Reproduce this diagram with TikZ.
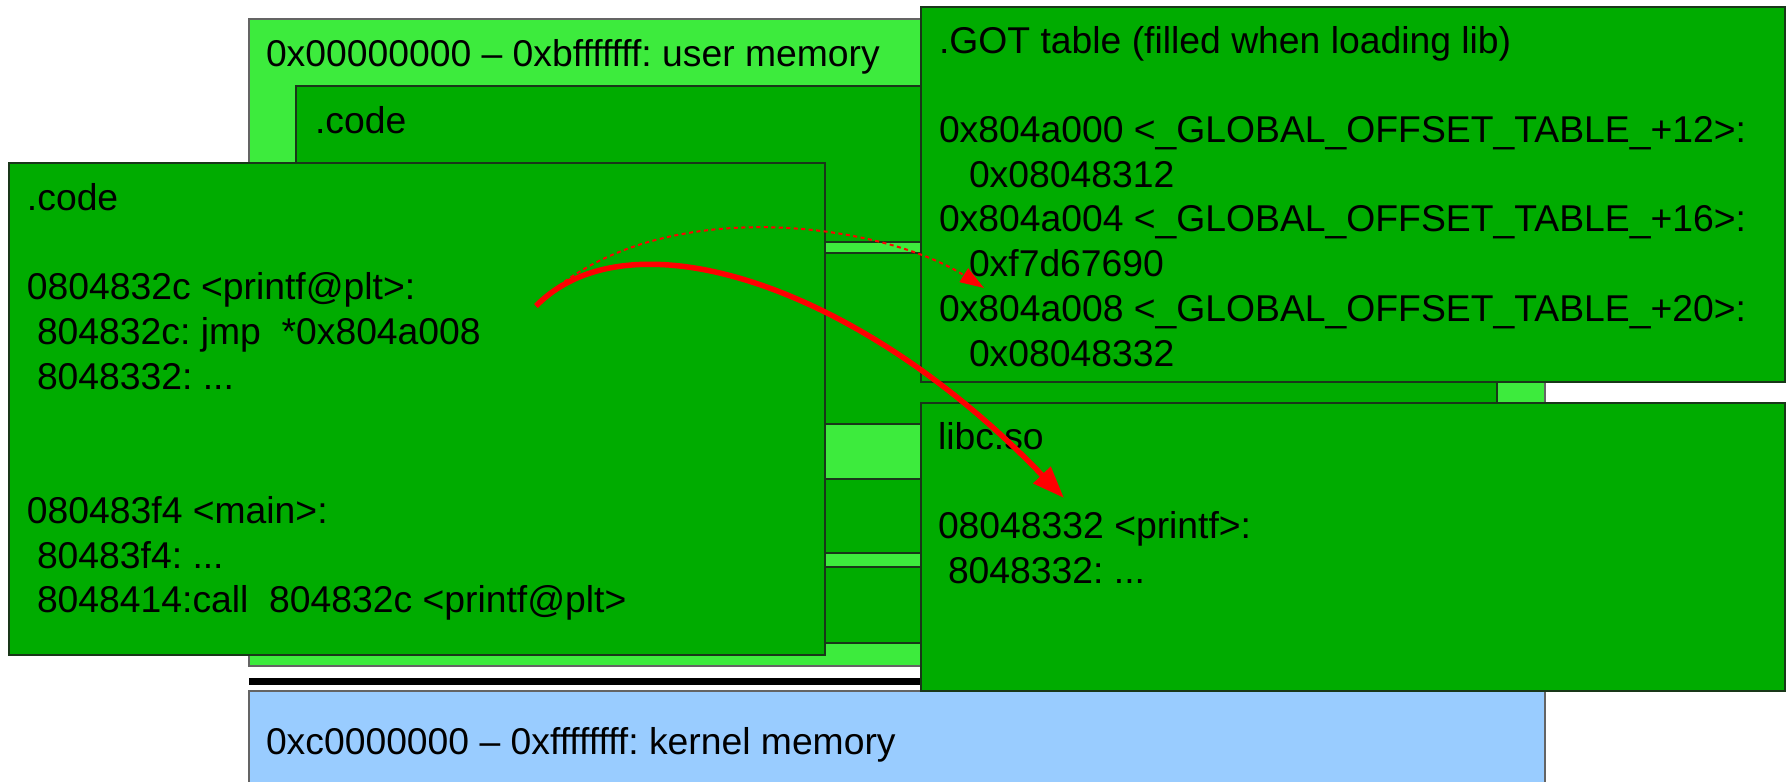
\documentclass[tikz,border=0pt]{standalone}
\usepackage{fontspec}
\setmainfont{Liberation Sans}
\usetikzlibrary{arrows.meta}
\frenchspacing
\definecolor{lightgr}{RGB}{61,235,61}
\definecolor{darkgr}{RGB}{0,172,0}
\definecolor{kernelblue}{RGB}{153,204,255}
\definecolor{boxline}{RGB}{25,55,25}
\definecolor{greyline}{RGB}{100,100,100}
\definecolor{arrowred}{RGB}{255,0,0}
\tikzset{
  box/.style={anchor=north west, inner sep=0pt, outer sep=0pt, line width=1.6pt},
  userbox/.style={box, draw=greyline, fill=lightgr},
  codebox/.style={box, draw=boxline, fill=darkgr},
  kernelbox/.style={box, draw=greyline, fill=kernelblue},
  txt/.style={anchor=base west, inner sep=0pt, outer sep=0pt, align=left,
    font=\fontsize{37.3pt}{44.7pt}\selectfont\frenchspacing},
  solidarrow/.style={draw=arrowred, line width=5.5pt, -{Triangle[length=32pt,width=23pt]}},
  dasharrow/.style={draw=arrowred, line width=2pt, dash pattern=on 4pt off 3.5pt,
    -{Triangle[length=24pt,width=16pt]}}
}
\begin{document}
\begin{tikzpicture}[x=1pt,y=-1pt]
\useasboundingbox (0,0) rectangle (1789,782);
\fill[white] (0,0) rectangle (1789,782);
% user memory region
\node[userbox, minimum width=1296pt, minimum height=647pt] (user) at (249,19) {};
\node[txt] (usertxt) at (266,66) {0x00000000 – 0xbfffffff: user memory};
% inner sections
\node[codebox, minimum width=1201pt, minimum height=156pt] (secA) at (296,86) {};
\node[txt] (secAtxt) at (315,133) {.code};
\node[codebox, minimum width=1201pt, minimum height=171pt] (secB) at (296,253) {};
\node[codebox, minimum width=1201pt, minimum height=74pt] (secC) at (296,479) {};
\node[codebox, minimum width=1201pt, minimum height=76pt] (secD) at (296,567) {};
% left .code box (text anchored at baseline of its last line)
\node[codebox, minimum width=816pt, minimum height=492pt] (code) at (9,163) {};
\node[txt] (codetxt) at (27,612.7) {.code\\[44.7pt]
0804832c <printf@plt>:\\
\hspace*{10pt}804832c: jmp\ \ *0x804a008\\
\hspace*{10pt}8048332: ...\\[89.4pt]
080483f4 <main>:\\
\hspace*{10pt}80483f4: ...\\
\hspace*{10pt}8048414:call\ \ 804832c <printf@plt>};
% GOT table
\node[codebox, minimum width=864pt, minimum height=375pt] (got) at (921,7) {};
\node[txt] (gottxt) at (939,366) {.GOT table (filled when loading lib)\\[44.7pt]
0x804a000 <\_GLOBAL\_OFFSET\_TABLE\_+12>:\\
\hspace*{30pt}0x08048312\\
0x804a004 <\_GLOBAL\_OFFSET\_TABLE\_+16>:\\
\hspace*{30pt}0xf7d67690\\
0x804a008 <\_GLOBAL\_OFFSET\_TABLE\_+20>:\\
\hspace*{30pt}0x08048332};
% separator line
\node[box, fill=black, minimum width=1296pt, minimum height=7pt] (sep) at (249,678) {};
% kernel memory
\node[kernelbox, minimum width=1296pt, minimum height=110pt] (kernel) at (249,691) {};
\node[txt] (kerneltxt) at (266,754) {0xc0000000 – 0xffffffff: kernel memory};
% libc
\node[codebox, minimum width=864pt, minimum height=288pt] (libc) at (921,403) {};
\node[txt] (libctxt) at (938,583.3) {libc.so\\[44.7pt]
08048332 <printf>:\\
\hspace*{10pt}8048332: ...};
% arrows
\coordinate (jmpsrc) at (536,306);
\coordinate (gotentry) at (984,288);
\coordinate (printfentry) at (1064,498);
\draw[dasharrow] (jmpsrc) .. controls (650,190) and (880,222) .. (gotentry);
\draw[solidarrow] (jmpsrc) .. controls (630,210) and (860,285) .. (printfentry);
\end{tikzpicture}
\end{document}
